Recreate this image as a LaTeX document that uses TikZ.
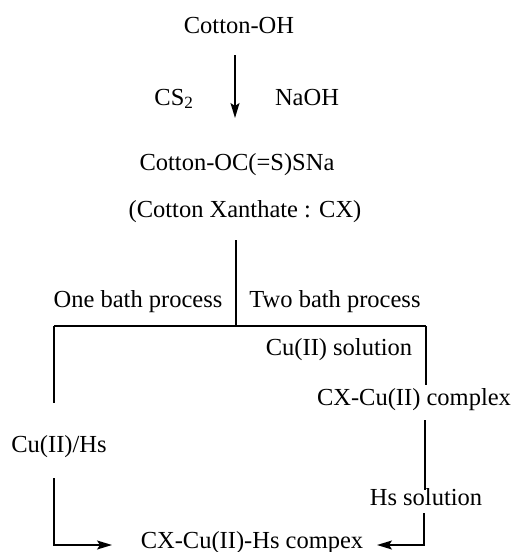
\documentclass[tikz,border=0pt]{standalone}
\usepackage{fontspec}
\setmainfont{Liberation Serif}
\usetikzlibrary{arrows.meta}
\begin{document}
\begin{tikzpicture}[x=1pt,y=-1pt,
  lbl/.style={anchor=base,inner sep=0pt,font=\fontsize{24.5}{29}\selectfont},
  ln/.style={line width=1.5pt},
  arr/.style={line width=1.5pt,-{Stealth[length=15pt,width=9pt,inset=3pt]}}]
\useasboundingbox (0,0) rectangle (514,552);
% texts
\node[lbl] (cotton) at (239,33) {Cotton-OH};
\node[lbl] (cs2) at (174,105) {CS\textsubscript{2}};
\node[lbl] (naoh) at (307,105) {NaOH};
\node[lbl] (xan) at (237,170) {Cotton-OC(=S)SNa};
\node[lbl] (cx) at (245,217) {(Cotton Xanthate : CX)};
\node[lbl] (one) at (138,307) {One bath process};
\node[lbl] (two) at (335,307) {Two bath process};
\node[lbl] (cusol) at (339,355) {Cu(II) solution};
\node[lbl] (cxcu) at (414,405) {CX-Cu(II) complex};
\node[lbl] (cuhs) at (59,452) {Cu(II)/Hs};
\node[lbl] (hssol) at (426,505) {Hs solution};
\node[lbl] (final) at (252,548) {CX-Cu(II)-Hs compex};
% coordinates
\coordinate (a1) at (235,55);
\coordinate (a2) at (235,118);
\coordinate (s1) at (236,240);
\coordinate (s2) at (236,326);
\coordinate (hl) at (54,326);
\coordinate (hr) at (426,326);
\coordinate (r1) at (426,385);
\coordinate (r2) at (425,420);
\coordinate (r3) at (425,490);
\coordinate (r4) at (424,513);
\coordinate (r5) at (424,545);
\coordinate (rt) at (377,545);
\coordinate (l1) at (54,403);
\coordinate (l2) at (54,478);
\coordinate (l3) at (54,545);
\coordinate (lt) at (112,545);
% connectors
\draw[arr] (a1) -- (a2);
\draw[ln] (s1) -- (s2);
\draw[ln] (hl) -- (hr);
\draw[ln] (hr) -- (r1);
\draw[ln] (r2) -- (r3);
\draw[arr] (r4) -- (r5) -- (rt);
\draw[ln] (hl) -- (l1);
\draw[arr] (l2) -- (l3) -- (lt);
\end{tikzpicture}
\end{document}
